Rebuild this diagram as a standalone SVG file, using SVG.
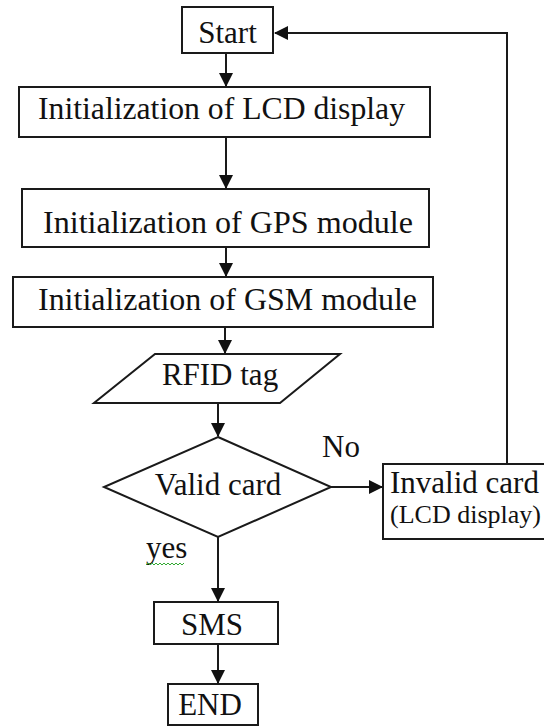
<svg xmlns="http://www.w3.org/2000/svg" width="544" height="727" viewBox="0 0 544 727">
  <style>
    .box { fill: #fff; stroke: #1a1a1a; stroke-width: 2; }
    .lbl { font-family: "Liberation Serif", "Times New Roman", serif; font-size: 31px; fill: #111; }
    .small { font-size: 26px; }
    .conn { fill: none; stroke: #1a1a1a; stroke-width: 2; }
  </style>
  <defs>
    <marker id="arrow" markerUnits="userSpaceOnUse" markerWidth="14" markerHeight="14" viewBox="0 0 14 14" refX="13" refY="7" orient="auto">
      <path d="M0,0 L14,7 L0,14 Z" fill="#111"/>
    </marker>
  </defs>
  <rect width="544" height="727" fill="#fff"/>

  <g id="start">
    <rect class="box" x="182" y="7" width="91" height="46"/>
    <text class="lbl" x="227.5" y="43" text-anchor="middle">Start</text>
  </g>

  <g id="init-lcd">
    <rect class="box" x="19" y="87" width="411" height="50"/>
    <text class="lbl" x="38" y="119" textLength="367" lengthAdjust="spacingAndGlyphs">Initialization of LCD display</text>
  </g>

  <g id="init-gps">
    <rect class="box" x="22" y="189" width="407" height="58"/>
    <text class="lbl" x="43" y="233" textLength="370" lengthAdjust="spacingAndGlyphs">Initialization of GPS module</text>
  </g>

  <g id="init-gsm">
    <rect class="box" x="13" y="277" width="420" height="50"/>
    <text class="lbl" x="38" y="310" textLength="379" lengthAdjust="spacingAndGlyphs">Initialization of GSM module</text>
  </g>

  <g id="rfid-tag">
    <polygon class="box" points="155,354 340,354 280,403 94,403"/>
    <text class="lbl" x="220" y="385" text-anchor="middle">RFID tag</text>
  </g>

  <g id="valid-card">
    <polygon class="box" points="218,437 331,487 218,537 104,487"/>
    <text class="lbl" x="218" y="495" text-anchor="middle">Valid card</text>
  </g>

  <g id="invalid-card">
    <rect class="box" x="383" y="464" width="170" height="75"/>
    <text class="lbl" x="390" y="493">Invalid card</text>
    <text class="lbl small" x="390" y="523">(LCD display)</text>
  </g>

  <g id="sms">
    <rect class="box" x="154" y="602" width="124" height="42"/>
    <text class="lbl" x="212" y="635" text-anchor="middle">SMS</text>
  </g>

  <g id="end">
    <rect class="box" x="168" y="684" width="90" height="41"/>
    <text class="lbl" x="210" y="715" text-anchor="middle">END</text>
  </g>

  <g id="connectors">
    <path class="conn" d="M226,53 V86" marker-end="url(#arrow)"/>
    <path class="conn" d="M226,137 V188" marker-end="url(#arrow)"/>
    <path class="conn" d="M226,247 V276" marker-end="url(#arrow)"/>
    <path class="conn" d="M225,327 V353" marker-end="url(#arrow)"/>
    <path class="conn" d="M218,403 V436" marker-end="url(#arrow)"/>
    <path class="conn" d="M331,487 H382" marker-end="url(#arrow)"/>
    <path class="conn" d="M507,464 V33 H275" marker-end="url(#arrow)"/>
    <path class="conn" d="M218,537 V601" marker-end="url(#arrow)"/>
    <path class="conn" d="M218,644 V683" marker-end="url(#arrow)"/>

    <text class="lbl" x="322" y="457">No</text>
    <text class="lbl" x="146" y="558">yes</text>
    <path d="M146,565 l2,-2 l2,2 l2,-2 l2,2 l2,-2 l2,2 l2,-2 l2,2 l2,-2 l2,2 l2,-2 l2,2 l2,-2 l2,2 l2,-2 l2,2 l2,-2 l2,2 l2,-2" fill="none" stroke="#3a3" stroke-width="1"/>
  </g>
</svg>
